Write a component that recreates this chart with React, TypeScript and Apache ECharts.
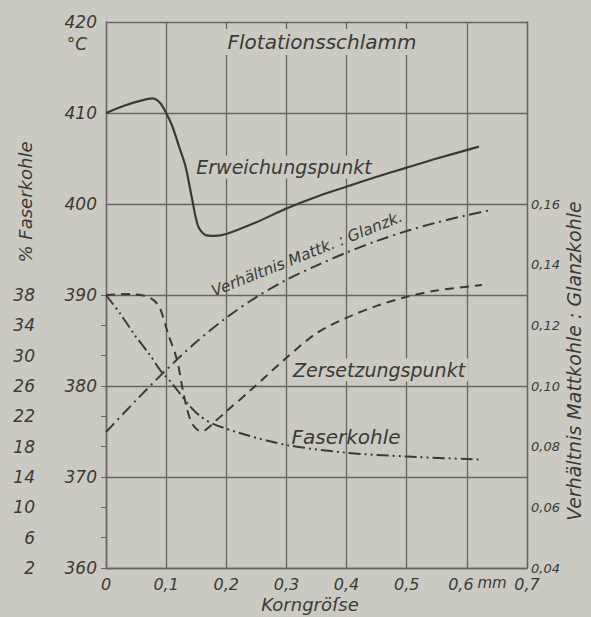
import React, { useEffect, useRef } from 'react';
import * as echarts from 'echarts';

// Korngröße (mm)
const ERW_X = [0, 0.03, 0.055, 0.077, 0.09, 0.1, 0.11, 0.12, 0.132, 0.143, 0.153, 0.165, 0.18, 0.2, 0.25, 0.3, 0.35, 0.4, 0.45, 0.5, 0.55, 0.62];
const ERW_Y = [410, 410.8, 411.3, 411.6, 411.1, 410, 408.6, 406.6, 404.2, 400.6, 397.6, 396.6, 396.5, 396.7, 398.0, 399.5, 400.8, 401.9, 403.0, 404.0, 405.0, 406.3];

const ZER_X = [0, 0.04, 0.065, 0.08, 0.09, 0.103, 0.118, 0.127, 0.135, 0.143, 0.152, 0.16, 0.168, 0.178, 0.2, 0.245, 0.3, 0.35, 0.4, 0.45, 0.5, 0.55, 0.625];
const ZER_Y = [390, 390.1, 389.9, 389.4, 388.5, 385.8, 382.9, 379.8, 377.4, 375.9, 375.2, 375.0, 375.3, 375.9, 377.2, 379.8, 383.1, 385.8, 387.5, 388.8, 389.8, 390.5, 391.1];

const FAS_X = [0, 0.023, 0.048, 0.073, 0.09, 0.107, 0.123, 0.14, 0.157, 0.178, 0.235, 0.302, 0.4, 0.5, 0.623];
const FAS_Y = [38, 35.6, 32.7, 30.1, 28.1, 26.6, 25.0, 23.3, 22.0, 21.0, 19.5, 18.2, 17.2, 16.7, 16.3];

const VER_X = [0, 0.05, 0.1, 0.15, 0.2, 0.25, 0.3, 0.35, 0.4, 0.45, 0.5, 0.55, 0.6, 0.635];
const VER_Y = [0.0848, 0.0953, 0.1053, 0.1145, 0.1225, 0.1293, 0.135, 0.1397, 0.144, 0.1478, 0.1511, 0.1539, 0.1563, 0.1578];

const PCT_TICKS = [2, 6, 10, 14, 18, 22, 26, 30, 34, 38];

const BG = '#cbcac2';
const INK = '#3a3a35';
const GRID = '#66665f';
const FONT = 'DejaVu Sans';

function pairs(xs: number[], ys: number[]) {
  return xs.map((x, i) => [x, ys[i]]);
}

export default function App() {
  const ref = useRef<HTMLDivElement>(null);
  useEffect(() => {
    const chart = echarts.init(ref.current!, null, { renderer: 'svg' });
    const lbl = (size: number, extra: any = {}) => ({
      fontFamily: FONT, fontStyle: 'italic', color: INK, fontSize: size, ...extra,
    });
    const txt = (text: string, x: number, y: number, size: number, extra: any = {}, styleExtra: any = {}) => ({
      type: 'text', x, y, z: 1, ...extra,
      style: {
        text, fill: INK, fontFamily: FONT, fontStyle: 'italic', fontSize: size,
        align: 'center', verticalAlign: 'middle', ...styleExtra,
      },
    });
    chart.setOption({
      animation: false,
      grid: [
        { left: 106, top: 22, width: 421, height: 546 },
        { left: 106, top: 295, width: 421, height: 273 },
      ],
      xAxis: [
        {
          type: 'value', gridIndex: 0, min: 0, max: 0.7, interval: 0.1,
          axisLine: { show: true, lineStyle: { color: GRID, width: 1.3 } },
          axisTick: { show: false },
          splitLine: { show: true, lineStyle: { color: GRID, width: 1.3 } },
          axisLabel: lbl(16, {
            margin: 8,
            formatter: (v: number) => {
              if (v === 0) return '0';
              const s = v.toFixed(1).replace('.', ',');
              return Math.abs(v - 0.6) < 1e-6 ? '{s|' + s + '}' : s;
            },
            rich: { s: { fontFamily: FONT, fontStyle: 'italic', color: INK, fontSize: 16, padding: [0, 12, 0, 0] } },
          }),
        },
        { type: 'value', gridIndex: 1, min: 0, max: 0.7, show: false },
      ],
      yAxis: [
        {
          type: 'value', gridIndex: 0, min: 360, max: 420, interval: 10, position: 'left',
          axisLine: { show: true, lineStyle: { color: GRID, width: 1.3 } },
          axisTick: { show: false },
          splitLine: { show: true, lineStyle: { color: GRID, width: 1.3 } },
          axisLabel: lbl(17, { margin: 9, padding: [0, 0, 8, 0] }),
        },
        {
          type: 'value', gridIndex: 0, min: 0.04, max: 0.22, interval: 0.02, position: 'right',
          axisLine: { show: true, lineStyle: { color: GRID, width: 1.3 } },
          axisTick: { show: false },
          splitLine: { show: false },
          axisLabel: lbl(13, {
            margin: 4, padding: [0, 0, 10, 0],
            formatter: (v: number) => (v > 0.165 ? '' : v.toFixed(2).replace('.', ',')),
          }),
        },
        {
          type: 'value', gridIndex: 1, min: 2, max: 38, position: 'left', offset: 60,
          axisLine: { show: true, lineStyle: { color: GRID, width: 1.3 } },
          axisTick: { show: true, length: 5, customValues: PCT_TICKS, lineStyle: { color: GRID } },
          splitLine: { show: false },
          axisLabel: lbl(17, { margin: 11, padding: [0, 0, 8, 0], customValues: PCT_TICKS }),
        },
      ],
      series: [
        {
          name: 'Erweichungspunkt', type: 'line', xAxisIndex: 0, yAxisIndex: 0,
          data: pairs(ERW_X, ERW_Y), symbol: 'none', smooth: 0.3,
          lineStyle: { color: INK, width: 2.2 },
        },
        {
          name: 'Zersetzungspunkt', type: 'line', xAxisIndex: 0, yAxisIndex: 0,
          data: pairs(ZER_X, ZER_Y), symbol: 'none', smooth: 0.3,
          lineStyle: { color: INK, width: 2, type: [9, 6] },
        },
        {
          name: 'Verhältnis Mattk. : Glanzk.', type: 'line', xAxisIndex: 0, yAxisIndex: 1,
          data: pairs(VER_X, VER_Y), symbol: 'none', smooth: 0.3,
          lineStyle: { color: INK, width: 2, type: [12, 5, 2, 5] },
        },
        {
          name: 'Faserkohle', type: 'line', xAxisIndex: 1, yAxisIndex: 2,
          data: pairs(FAS_X, FAS_Y), symbol: 'none', smooth: 0.3,
          lineStyle: { color: INK, width: 2, type: [12, 4, 2, 4, 2, 4] },
        },
      ],
      graphic: [
        txt('Flotationsschlamm', 322, 42, 20, {}, { backgroundColor: BG, padding: [3, 4] }),
        txt('°C', 77, 44, 17),
        txt('Erweichungspunkt', 284, 167, 19, {}, { backgroundColor: BG, padding: [2, 3] }),
        txt('Verhältnis Mattk. : Glanzk.', 307, 254, 15.5, { rotation: 0.38 }),
        txt('Zersetzungspunkt', 379, 370, 19, {}, { backgroundColor: BG, padding: [2, 3] }),
        txt('Faserkohle', 346, 437, 20),
        txt('mm', 492, 583, 15),
        txt('Korngröſse', 310, 604, 18),
        txt('% Faserkohle', 25, 202, 18, { rotation: Math.PI / 2 }),
        txt('Verhältnis Mattkohle : Glanzkohle', 574, 361, 19, { rotation: Math.PI / 2 }),
      ],
    });
    return () => chart.dispose();
  }, []);
  return (
    <div style={{ position: 'absolute', left: 0, top: 0, width: 591, height: 617, background: BG }}>
      <div ref={ref} style={{ width: 591, height: 617 }} />
    </div>
  );
}
